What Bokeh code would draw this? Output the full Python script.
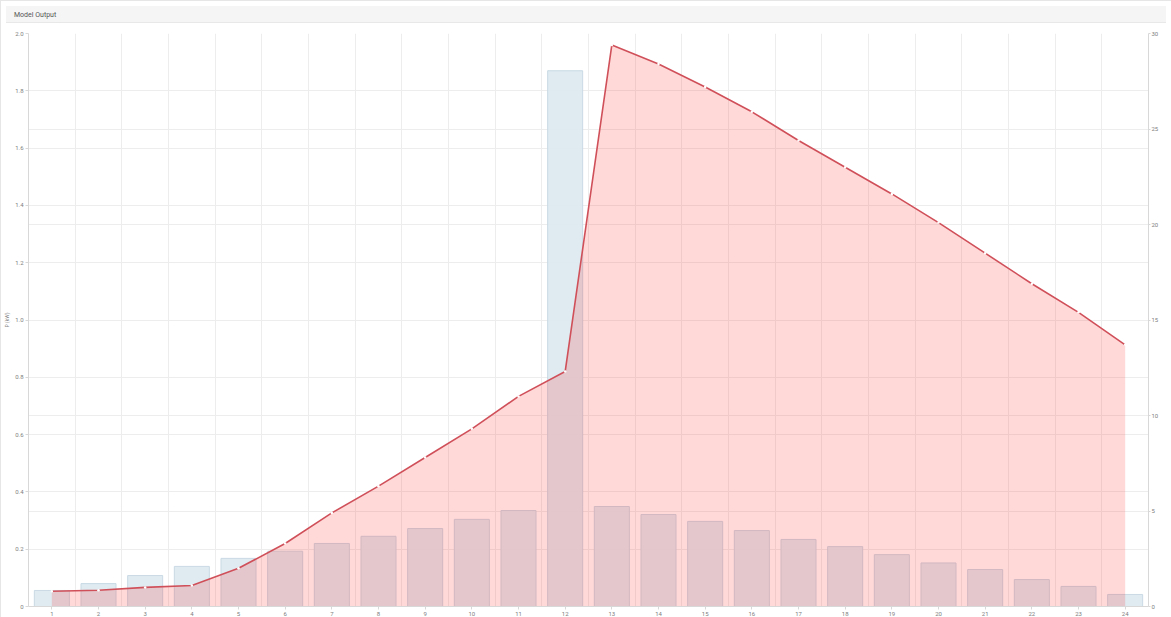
from bokeh.plotting import figure
from bokeh.models import (Range1d, LinearAxis, FixedTicker, PrintfTickFormatter,
                          Div, Grid, ColumnDataSource)
from bokeh.layouts import column
from bokeh.embed import file_html
from bokeh.resources import INLINE

# ---- data ----
hours = list(range(1, 25))
hour_labels = [str(h) for h in hours]
bar_values = [0.056, 0.080, 0.108, 0.140, 0.168, 0.193, 0.220, 0.245, 0.272, 0.304,
              0.335, 1.87, 0.349, 0.321, 0.297, 0.265, 0.234, 0.209, 0.181, 0.152,
              0.129, 0.094, 0.070, 0.042]
line_values = [0.8, 0.85, 1.0, 1.1, 2.0, 3.3, 4.9, 6.3, 7.8, 9.3,
               11.0, 12.3, 29.4, 28.4, 27.2, 25.9, 24.4, 23.0, 21.6, 20.1,
               18.5, 16.9, 15.4, 13.7]
left_ticks = [0, 0.2, 0.4, 0.6, 0.8, 1.0, 1.2, 1.4, 1.6, 1.8, 2.0]
right_ticks = [0, 5, 10, 15, 20, 25, 30]
title_text = "Model Output"
y_label = "P (kW)"

src = ColumnDataSource(dict(x=hours, bar=bar_values, line=line_values,
                            zero=[0] * len(hours)))

FONT = "Roboto"
W = 1160
p = figure(width=W, height=590, output_backend="svg", toolbar_location=None,
           x_range=Range1d(0.5, 24.5), y_range=Range1d(0, 2.0),
           min_border_left=10, min_border_right=0, min_border_top=5,
           min_border_bottom=4, background_fill_color="white",
           border_fill_color="white", outline_line_color=None)
p.extra_y_ranges = {"right": Range1d(0, 30)}

# bars (left axis)
p.vbar(x="x", top="bar", width=0.75, source=src, fill_color="#dce9f0",
       fill_alpha=0.9, line_color="#c9d9e4", line_width=1)

# area (right axis)
p.varea(x="x", y1="zero", y2="line", source=src, y_range_name="right",
        fill_color="#ff1a1a", fill_alpha=0.17)
p.line(x="x", y="line", source=src, y_range_name="right",
       line_color="#d0505a", line_width=1.6)
p.scatter(x="x", y="line", source=src, y_range_name="right", size=2.5,
          fill_color="white", line_color=None)

# axes
grid_color = "#ededed"
p.xaxis.ticker = FixedTicker(ticks=hours)
p.xaxis.major_label_overrides = {h: l for h, l in zip(hours, hour_labels)}
p.yaxis.ticker = FixedTicker(ticks=left_ticks)
p.yaxis.formatter = PrintfTickFormatter(format="%.1f")
p.yaxis.major_label_overrides = {0: "0"}
p.yaxis.axis_label = y_label

ra = LinearAxis(y_range_name="right", ticker=FixedTicker(ticks=right_ticks))
p.add_layout(ra, "right")

for ax in [p.xaxis[0], p.yaxis[0], ra]:
    ax.major_label_text_font_size = "6px"
    ax.major_label_text_font = FONT
    ax.major_label_text_color = "#808080"
    ax.axis_line_color = "#d8d8d8"
    ax.major_tick_line_color = "#d8d8d8"
    ax.major_tick_in = 0
    ax.major_tick_out = 3
    ax.minor_tick_line_color = None
    ax.major_label_standoff = 2
ra.major_tick_out = 2
ra.major_label_standoff = 1
p.yaxis.axis_label_text_font_size = "5px"
p.yaxis.axis_label_text_font = FONT
p.yaxis.axis_label_text_font_style = "normal"
p.yaxis.axis_label_text_color = "#888888"
p.yaxis.axis_label_standoff = 2

# grids
p.xgrid.ticker = FixedTicker(ticks=[h + 0.5 for h in hours[:-1]])
p.xgrid.grid_line_color = grid_color
p.ygrid.grid_line_color = grid_color
rg = Grid(dimension=1, ticker=ra.ticker, y_range_name="right",
          grid_line_color=grid_color)
p.add_layout(rg)

header = Div(text=title_text, width=W, height=17,
             styles={"background-color": "#f5f5f5", "font-size": "7px",
                     "font-family": FONT, "color": "#555555",
                     "padding": "4px 8px", "box-sizing": "border-box",
                     "border-bottom": "1px solid #e8e8e8"})

layout = column(header, p, spacing=0,
                styles={"border": "1px solid #e6e6e6"})

open("out.html", "w").write(file_html(layout, INLINE))
